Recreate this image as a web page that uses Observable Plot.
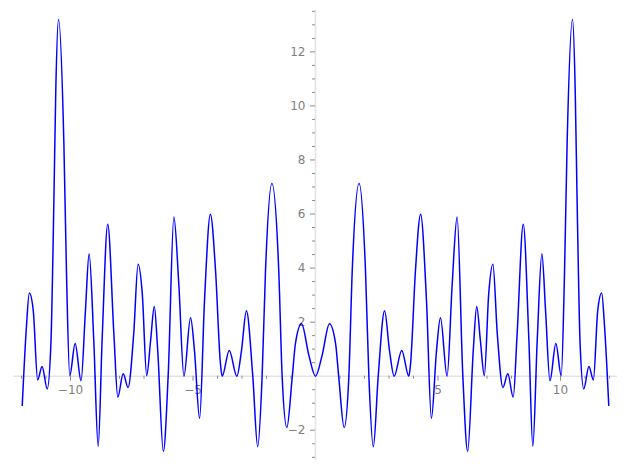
<!DOCTYPE html>
<html>
<head>
<meta charset="utf-8">
<script src="https://cdn.jsdelivr.net/npm/d3@7"></script>
<script src="https://cdn.jsdelivr.net/npm/@observablehq/plot@0.6"></script>
<style>
  html, body { margin: 0; padding: 0; background: #fff; }
  #chart { width: 630px; height: 470px; }
</style>
</head>
<body>
<div id="chart"></div>
<script>
// Curve samples (x, y)
const xValues = [
  -11.97, -11.8, -11.68, -11.52, -11.34, -11.16, -10.95, -10.8, -10.68, -10.6,
  -10.49, -10.27, -10.16, -10.03, -9.81, -9.57, -9.39, -9.24, -9.05, -8.87,
  -8.71, -8.48, -8.23, -8.07, -7.85, -7.65, -7.42, -7.24, -7.07, -6.89,
  -6.73, -6.58, -6.44, -6.21, -6.01, -5.78, -5.58, -5.37, -5.1, -4.94,
  -4.73, -4.53, -4.29, -4.08, -3.88, -3.81, -3.52, -3.21, -3.02, -2.82,
  -2.56, -2.36, -2.18, -2.04, -1.78, -1.5, -1.36, -1.17, -0.95, -0.82,
  -0.57, -0.27,
  0,
  0.27, 0.57, 0.82, 0.95, 1.17, 1.36, 1.5, 1.78, 2.04, 2.18,
  2.36, 2.56, 2.82, 3.02, 3.21, 3.52, 3.81, 3.88, 4.08, 4.29,
  4.53, 4.73, 4.94, 5.1, 5.37, 5.58, 5.78, 6.01, 6.21, 6.44,
  6.58, 6.73, 6.89, 7.07, 7.24, 7.42, 7.65, 7.85, 8.07, 8.23,
  8.48, 8.71, 8.87, 9.05, 9.24, 9.39, 9.57, 9.81, 10.03, 10.16,
  10.27, 10.49, 10.6, 10.68, 10.8, 10.95, 11.16, 11.34, 11.52, 11.68,
  11.8, 11.97
];
const yValues = [
  -1.08, 1.81, 3.08, 2.43, -0.14, 0.36, -0.47, 1.2, 6.4, 10.6,
  13.2, 8.6, 3.67, 0.02, 1.21, -0.17, 2.43, 4.53, 1.32, -2.6,
  1.32, 5.62, 1.57, -0.78, 0.09, -0.42, 1.57, 4.14, 3.05, 0.02,
  1.32, 2.58, 0.95, -2.78, 0.09, 5.89, 3.42, 0, 2.16, 0.95,
  -1.56, 2.8, 5.99, 3.91, 0.46, 0, 0.95, 0, 0.95, 2.42,
  0, -2.61, -0.04, 3.91, 7.13, 3.91, -0.04, -1.9, -0.04, 1.2,
  1.94, 0.77,
  0,
  0.77, 1.94, 1.2, -0.04, -1.9, -0.04, 3.91, 7.13, 3.91, -0.04,
  -2.61, 0, 2.42, 0.95, 0, 0.95, 0, 0.46, 3.91, 5.99,
  2.8, -1.56, 0.95, 2.16, 0, 3.42, 5.89, 0.09, -2.78, 0.95,
  2.58, 1.32, 0.02, 3.05, 4.14, 1.57, -0.42, 0.09, -0.78, 1.57,
  5.62, 1.32, -2.6, 1.32, 4.53, 2.43, -0.17, 1.21, 0.02, 3.67,
  8.6, 13.2, 10.6, 6.4, 1.2, -0.47, 0.36, -0.14, 2.43, 3.08,
  1.81, -1.08
];

// Axis ticks
const xMajorTicks = [-10, -5, 5, 10];
const xTickLabels = ["\u221210", "\u22125", "5", "10"];
const xMinorTicks = [-12, -11, -9, -8, -7, -6, -4, -3, -2, -1, 1, 2, 3, 4, 6, 7, 8, 9, 11, 12];
const yMajorTicks = [-2, 2, 4, 6, 8, 10, 12];
const yTickLabels = ["\u22122", "2", "4", "6", "8", "10", "12"];
const yMinorTicks = d3.range(-3, 13.51, 0.5).filter(v => v % 2 !== 0);

const points = xValues.map((x, i) => ({x, y: yValues[i]}));

const axisColor = "#e3e3e3";
const tickColor = "#8c8c8c";
const labelColor = "#808080";

const chart = Plot.plot({
  width: 630,
  height: 470,
  marginLeft: 21,
  marginRight: 21,
  marginTop: 10,
  marginBottom: 10,
  x: {domain: [-12, 12], axis: null},
  y: {domain: [-3.12, 13.53], axis: null},
  style: {background: "white", fontFamily: "DejaVu Sans, sans-serif", fontSize: "12px"},
  marks: [
    Plot.ruleY([0], {stroke: axisColor, strokeWidth: 1.6, insetLeft: -8, insetRight: -8}),
    Plot.ruleX([0], {stroke: axisColor, strokeWidth: 1.6}),
    Plot.ruleX(xMinorTicks, {x: d => d, y1: 0, y2: 0, insetTop: 0, insetBottom: -3, stroke: tickColor, strokeWidth: 1}),
    Plot.ruleX(xMajorTicks, {x: d => d, y1: 0, y2: 0, insetTop: 0, insetBottom: -5, stroke: tickColor, strokeWidth: 1}),
    Plot.ruleY(yMinorTicks, {y: d => d, x1: 0, x2: 0, insetLeft: -3, insetRight: 0, stroke: tickColor, strokeWidth: 1}),
    Plot.ruleY(yMajorTicks, {y: d => d, x1: 0, x2: 0, insetLeft: -5, insetRight: 0, stroke: tickColor, strokeWidth: 1}),
    Plot.text(xMajorTicks, {x: d => d, y: 0, text: (d, i) => xTickLabels[i], dy: 9, lineAnchor: "top", fill: labelColor, fontSize: 12}),
    Plot.text(yMajorTicks, {x: 0, y: d => d, text: (d, i) => yTickLabels[i], dx: -10, textAnchor: "end", fill: labelColor, fontSize: 12}),
    Plot.line(points, {x: "x", y: "y", stroke: "#0000ff", strokeWidth: 1.5, curve: "monotone-x"})
  ]
});
document.getElementById("chart").appendChild(chart);
</script>
</body>
</html>
